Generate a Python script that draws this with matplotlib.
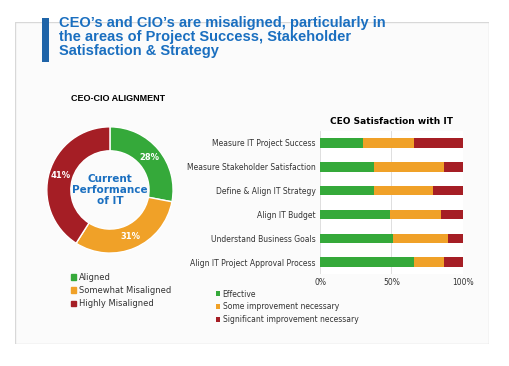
import matplotlib
matplotlib.use("Agg")
import matplotlib.pyplot as plt
import numpy as np

# Data
donut_labels = ["Aligned", "Somewhat Misaligned", "Highly Misaligned"]
donut_values = [28, 31, 41]

categories = ["Measure IT Project Success", "Measure Stakeholder Satisfaction",
              "Define & Align IT Strategy", "Align IT Budget",
              "Understand Business Goals", "Align IT Project Approval Process"]
effective = [30, 38, 38, 49, 51, 66]
some_improve = [36, 49, 41, 36, 39, 21]
significant = [34, 13, 21, 15, 10, 13]
series_names = ["Effective", "Some improvement necessary", "Significant improvement necessary"]
xticks = [0, 50, 100]
xtick_labels = ["0%", "50%", "100%"]

GREEN = "#35a93a"
ORANGE = "#f0a128"
RED = "#a51e25"
BLUE = "#1a6fc0"
colors = [GREEN, ORANGE, RED]

fig = plt.figure(figsize=(5.09, 3.66), dpi=100)
fig.patch.set_facecolor("white")

# Page background
page = fig.add_axes([0.03, 0.06, 0.93, 0.88])
page.set_xlim(0, 1); page.set_ylim(0, 1)
page.axis("off")
page.add_patch(plt.Rectangle((0, 0), 1, 1, facecolor="#fbfbfb", edgecolor="#d8d8d8", lw=1.0))

# Title with blue bar
fig.patches.append(plt.Rectangle((0.083, 0.83), 0.014, 0.12, transform=fig.transFigure,
                                 facecolor="#1f64a8", edgecolor="none"))
fig.text(0.115, 0.955, "CEO’s and CIO’s are misaligned, particularly in\n"
         "the areas of Project Success, Stakeholder\nSatisfaction & Strategy",
         color=BLUE, fontsize=10.5, fontweight="bold", va="top", ha="left",
         family="Liberation Sans", linespacing=1.0)

# Donut chart
fig.text(0.14, 0.725, "CEO-CIO ALIGNMENT", fontsize=6.5, fontweight="bold", ha="left",
         family="Liberation Sans")
axd = fig.add_axes([0.061, 0.265, 0.31, 0.432])
wedges, _ = axd.pie(donut_values, colors=colors, startangle=90, counterclock=False,
                    wedgeprops=dict(width=0.38, edgecolor="white", linewidth=1))
for w, v in zip(wedges, donut_values):
    ang = np.deg2rad((w.theta1 + w.theta2) / 2)
    axd.text(0.81 * np.cos(ang), 0.81 * np.sin(ang), f"{v}%", color="white",
             fontsize=6, fontweight="bold", ha="center", va="center")
axd.text(0, 0, "Current\nPerformance\nof IT", color=BLUE, fontsize=7.5, fontweight="bold",
         ha="center", va="center", linespacing=1.1)
axd.set_aspect("equal")
handles = [plt.Rectangle((0, 0), 1, 1, color=c) for c in colors]
fig.legend(handles, donut_labels, loc="upper left", bbox_to_anchor=(0.125, 0.275),
           frameon=False, fontsize=6, handlelength=0.6, handleheight=0.6,
           handletextpad=0.3, labelspacing=0.5, labelcolor="#333333")

# Bar chart
axb = fig.add_axes([0.629, 0.251, 0.28, 0.391])
y = np.arange(len(categories))
left = np.zeros(len(categories))
for vals, c, name in zip([effective, some_improve, significant], colors, series_names):
    axb.barh(y, vals, left=left, color=c, height=0.4, label=name)
    left += np.array(vals)
axb.set_yticks(y)
axb.set_yticklabels(categories, fontsize=5.5, color="#333333")
axb.set_ylim(len(categories) - 0.5, -0.5)
axb.set_xlim(0, 100)
axb.set_xticks(xticks)
axb.set_xticklabels(xtick_labels, fontsize=5.5, color="#333333")
axb.grid(axis="x", color="#d9d9d9", lw=0.6)
axb.set_axisbelow(True)
for s in axb.spines.values():
    s.set_visible(False)
axb.tick_params(length=0, pad=3)
axb.set_title("CEO Satisfaction with IT", fontsize=6.5, fontweight="bold", pad=5)
axb.legend(loc="upper left", bbox_to_anchor=(-0.78, -0.06), frameon=False, fontsize=5.5,
           handlelength=0.6, handleheight=0.6, handletextpad=0.3, labelspacing=0.5,
           labelcolor="#333333")

fig.savefig("out.png", dpi=100)
